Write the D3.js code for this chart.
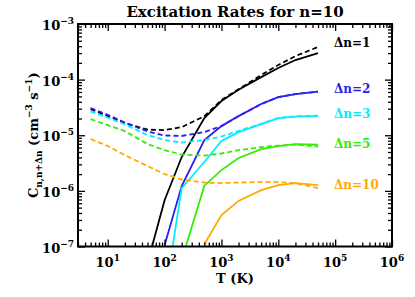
<!DOCTYPE html>
<html>
<head>
<meta charset="utf-8">
<script src="https://cdn.jsdelivr.net/npm/d3@7"></script>
<style>
  body { margin: 0; background: #fff; }
</style>
</head>
<body>
<div id="canvas"></div>
<script>
// temperature grid (K)
const temps = [5, 10, 20, 50, 100, 200, 500, 1000, 2000, 5000, 10000, 20000, 50000];

// rates, cm^-3 s^-1 (null = not plotted)
const dn1Dashed = [2.95e-5, 2.2e-5, 1.66e-5, 1.26e-5, 1.24e-5, 1.4e-5, 2.2e-5, 4.3e-5, 6.7e-5, 1.21e-4, 1.83e-4, 2.65e-4, 3.86e-4];
const dn1Solid  = [null, null, null, 5e-8, 6.8e-7, 4.06e-6, 2.04e-5, 4.12e-5, 6.6e-5, 1.11e-4, 1.62e-4, 2.25e-4, 3.0e-4];
const dn2Dashed = [3.08e-5, 2.34e-5, 1.69e-5, 1.17e-5, 9.9e-6, 9.7e-6, 1.14e-5, 1.46e-5, 2.21e-5, 3.64e-5, 4.86e-5, 5.5e-5, 6.1e-5];
const dn2Solid  = [null, null, null, null, 1.05e-7, 1.22e-6, 8.2e-6, 1.46e-5, 2.21e-5, 3.64e-5, 4.86e-5, 5.5e-5, 6.1e-5];
const dn3Dashed = [2.67e-5, 2.08e-5, 1.56e-5, 1.01e-5, 8.2e-6, 7.4e-6, 8.2e-6, 9.5e-6, 1.2e-5, 1.6e-5, 2.05e-5, 2.2e-5, 2.25e-5];
const dn3Solid  = [null, null, null, null, 1.2e-8, 1.12e-6, 3.3e-6, 7.9e-6, 1.14e-5, 1.59e-5, 2.04e-5, 2.17e-5, 2.21e-5];
const dn5Dashed = [1.95e-5, 1.52e-5, 1.19e-5, 6.95e-6, 5.4e-6, 4.5e-6, 4.3e-6, 4.7e-6, 5.4e-6, 6.1e-6, 6.5e-6, 6.8e-6, 6.25e-6];
const dn5Solid  = [null, null, null, null, null, 5.7e-8, 1.24e-6, 2.36e-6, 3.9e-6, 5.65e-6, 6.4e-6, 6.95e-6, 6.75e-6];
const dn10Dashed = [8.55e-6, 6.4e-6, 4.4e-6, 2.8e-6, 2.0e-6, 1.6e-6, 1.41e-6, 1.38e-6, 1.41e-6, 1.44e-6, 1.44e-6, 1.37e-6, 1.12e-6];
const dn10Solid  = [null, null, null, null, null, null, 1.1e-7, 3.67e-7, 6.6e-7, 1.03e-6, 1.27e-6, 1.38e-6, 1.27e-6];

const seriesNames = ["\u0394n=1", "\u0394n=2", "\u0394n=3", "\u0394n=5", "\u0394n=10"];
const seriesColors = ["#000000", "#2a1ff0", "#00eeff", "#33ee00", "#ffaa00"];
const labelY = [42, 88, 113, 143, 184];

const xTicks = [1e1, 1e2, 1e3, 1e4, 1e5, 1e6];
const yTicks = [1e-7, 1e-6, 1e-5, 1e-4, 1e-3];

const w = 415, h = 297;
const margin = {top: 24, right: 23, bottom: 50.5, left: 78};
const serif = "DejaVu Serif, Liberation Serif, serif";

const svg = d3.select("#canvas").append("svg")
  .attr("width", w).attr("height", h)
  .style("font-family", serif).style("font-weight", "bold");

const x = d3.scaleLog().domain([3, 1e6]).range([margin.left, w - margin.right]);
const y = d3.scaleLog().domain([1e-7, 1e-3]).range([h - margin.bottom, margin.top]);

svg.append("clipPath").attr("id", "clip")
  .append("rect")
  .attr("x", margin.left).attr("y", margin.top)
  .attr("width", w - margin.left - margin.right)
  .attr("height", h - margin.top - margin.bottom);

const line = d3.line()
  .defined(d => d[1] != null)
  .x(d => x(d[0])).y(d => y(d[1]));

const plot = svg.append("g").attr("clip-path", "url(#clip)");
const pairs = [
  [dn1Dashed, dn1Solid], [dn2Dashed, dn2Solid], [dn3Dashed, dn3Solid],
  [dn5Dashed, dn5Solid], [dn10Dashed, dn10Solid]
];
pairs.forEach((p, i) => {
  plot.append("path")
    .datum(temps.map((t, j) => [t, p[0][j]]))
    .attr("d", line).attr("fill", "none")
    .attr("stroke", seriesColors[i]).attr("stroke-width", 1.8)
    .attr("stroke-dasharray", "5,3");
  plot.append("path")
    .datum(temps.map((t, j) => [t, p[1][j]]))
    .attr("d", line).attr("fill", "none")
    .attr("stroke", seriesColors[i]).attr("stroke-width", 1.8);
});

// minor tick values
const minorX = [], minorY = [];
for (let e = 0; e < 6; e++) for (let k = 2; k <= 9; k++) {
  const v = k * Math.pow(10, e);
  if (v >= 3 && v < 1e6) minorX.push(v);
}
for (let e = -7; e < -3; e++) for (let k = 2; k <= 9; k++) minorY.push(k * Math.pow(10, e));

const fmt = () => "";
function axis(gen, scale, ticks, size) {
  return gen(scale).tickValues(ticks).tickSize(size).tickFormat(fmt);
}
const x0 = margin.left, x1 = w - margin.right, y0 = h - margin.bottom, y1 = margin.top;

const axes = svg.append("g").attr("class", "axes");
// bottom / top
axes.append("g").attr("transform", `translate(0,${y0})`).call(axis(d3.axisTop, x, xTicks, 7));
axes.append("g").attr("transform", `translate(0,${y0})`).call(axis(d3.axisTop, x, minorX, 4));
axes.append("g").attr("transform", `translate(0,${y1})`).call(axis(d3.axisBottom, x, xTicks, 7));
axes.append("g").attr("transform", `translate(0,${y1})`).call(axis(d3.axisBottom, x, minorX, 4));
// left / right
axes.append("g").attr("transform", `translate(${x0},0)`).call(axis(d3.axisRight, y, yTicks, 7));
axes.append("g").attr("transform", `translate(${x0},0)`).call(axis(d3.axisRight, y, minorY, 4));
axes.append("g").attr("transform", `translate(${x1},0)`).call(axis(d3.axisLeft, y, yTicks, 7));
axes.append("g").attr("transform", `translate(${x1},0)`).call(axis(d3.axisLeft, y, minorY, 4));
axes.selectAll(".domain").remove();
axes.selectAll("line").attr("stroke", "#000").attr("stroke-width", 1.3);

svg.append("rect")
  .attr("x", x0).attr("y", y1).attr("width", x1 - x0).attr("height", y0 - y1)
  .attr("fill", "none").attr("stroke", "#000").attr("stroke-width", 2);

// tick labels
xTicks.forEach(v => {
  const t = svg.append("text").attr("x", x(v)).attr("y", y0 + 20)
    .attr("text-anchor", "middle").attr("font-size", 13);
  t.append("tspan").text("10");
  t.append("tspan").attr("dy", -6).attr("font-size", 9).text(Math.round(Math.log10(v)));
});
yTicks.forEach(v => {
  const t = svg.append("text").attr("x", x0 - 4).attr("y", y(v) + 6)
    .attr("text-anchor", "end").attr("font-size", 13);
  t.append("tspan").text("10");
  t.append("tspan").attr("dy", -6).attr("font-size", 9).text("\u2212" + Math.abs(Math.round(Math.log10(v))));
});

// titles
svg.append("text").attr("x", (x0 + x1) / 2).attr("y", 17)
  .attr("text-anchor", "middle").attr("font-size", 15)
  .text("Excitation Rates for n=10");

svg.append("text").attr("x", (x0 + x1) / 2).attr("y", 283)
  .attr("text-anchor", "middle").attr("font-size", 13)
  .text("T (K)");

const yl = svg.append("text")
  .attr("transform", `translate(38,${(y0 + y1) / 2}) rotate(-90)`)
  .attr("text-anchor", "middle").attr("font-size", 13);
yl.append("tspan").text("C");
yl.append("tspan").attr("dy", 4).attr("font-size", 9).text("n,n+\u0394n");
yl.append("tspan").attr("dy", -4).text(" (cm");
yl.append("tspan").attr("dy", -6).attr("font-size", 9).text("\u22123");
yl.append("tspan").attr("dy", 6).text(" s");
yl.append("tspan").attr("dy", -6).attr("font-size", 9).text("\u22121");
yl.append("tspan").attr("dy", 6).text(")");

// series labels
seriesNames.forEach((s, i) => {
  svg.append("text").attr("x", 334).attr("y", labelY[i] + 5)
    .attr("font-size", 12).attr("fill", seriesColors[i]).text(s);
});
</script>
</body>
</html>
